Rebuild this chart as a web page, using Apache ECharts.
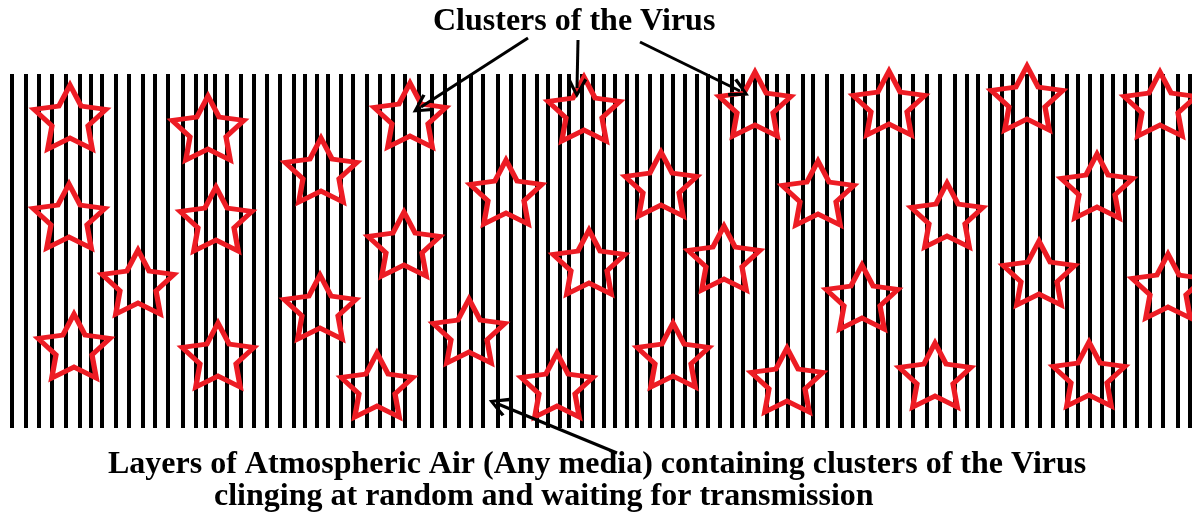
<!DOCTYPE html>
<html>
<head>
<meta charset="utf-8">
<script src="https://cdn.jsdelivr.net/npm/echarts@6/dist/echarts.min.js"></script>
<style>
  html, body { margin: 0; padding: 0; background: #fff; }
  #main { width: 1192px; height: 516px; }
</style>
</head>
<body>
<div id="main"></div>
<script>
// x positions of the hand drawn vertical "air" lines
var lineX = [12, 26, 39, 52, 66, 80, 91, 102, 116, 129, 143, 155, 168, 183, 196, 206, 215, 227, 241, 254,
  267, 280, 294, 305, 317, 328, 341, 353, 367, 380, 393,
  405, 419, 432, 445, 459, 471, 483, 498, 511, 524, 537, 548, 560, 569, 582, 593, 604, 615, 627, 637,
  650, 662, 673, 685, 697, 708, 720, 732, 743, 755, 767, 777, 788,
  803, 813, 827, 842, 853, 865, 878, 888, 900, 913, 927, 940, 955, 967, 978, 990, 1002, 1013, 1027,
  1040, 1053, 1067, 1078, 1090, 1102, 1113, 1125, 1137, 1150, 1163, 1178, 1190];
var lineTop = 74;
var lineBottom = 428;

// virus clusters (stars)
var starX = [70, 208, 321, 69, 216, 410, 584, 755, 506, 661, 889, 1027, 1160, 818, 947, 1097,
  138, 74, 218, 320, 377, 404, 589, 724, 469, 673, 557, 787, 862, 1039, 1168, 935, 1089];
var starY = [117, 128, 170, 216, 219, 115, 109, 104, 192, 184, 103, 98, 104, 193, 215, 186,
  282, 346, 355, 307, 385, 244, 262, 258, 331, 355, 385, 380, 297, 273, 286, 375, 374];

// arrows: start -> tip
var arrowFrom = [[528, 38], [578, 40], [640, 42], [617, 453]];
var arrowTo = [[421, 107], [577, 88], [740, 91], [498, 404]];

var topLabel = 'Clusters of the Virus';
var bottomLabel1 = 'Layers of Atmospheric Air (Any media) containing clusters of the Virus';
var bottomLabel2 = 'clinging at random and waiting for transmission';

var starPath = 'path://M0,-50 L14.7,-20.2 L47.55,-15.45 L23.8,7.7 L29.39,40.45 L0,25 L-29.39,40.45 L-23.8,7.7 L-47.55,-15.45 L-14.7,-20.2 Z';
var chevron = 'path://M5,0 L10,9 L8.6,10 L5,3 L1.4,10 L0,9 Z';

var lineData = [];
for (var i = 0; i < lineX.length; i++) {
  lineData.push({coords: [[lineX[i], lineTop], [lineX[i], lineBottom]]});
}
var starData = [];
for (var j = 0; j < starX.length; j++) {
  starData.push([starX[j], starY[j]]);
}
var arrowData = [];
for (var k = 0; k < arrowFrom.length; k++) {
  arrowData.push({coords: [arrowFrom[k], arrowTo[k]]});
}

var myChart = echarts.init(document.getElementById('main'));
var serif = '"Liberation Serif", "DejaVu Serif", serif';
var option = {
  backgroundColor: '#fff',
  animation: false,
  grid: {left: 0, right: 0, top: 0, bottom: 0},
  xAxis: {type: 'value', min: 0, max: 1192, show: false},
  yAxis: {type: 'value', min: 0, max: 516, inverse: true, show: false},
  graphic: [
    {type: 'text', left: 433, top: 6, z: 10,
      style: {text: topLabel, font: 'bold 32px ' + serif, fill: '#000'}},
    {type: 'text', left: 108, top: 449, z: 10,
      style: {text: bottomLabel1, font: 'bold 32px ' + serif, fill: '#000'}},
    {type: 'text', left: 214, top: 481, z: 10,
      style: {text: bottomLabel2, font: 'bold 32px ' + serif, fill: '#000'}}
  ],
  series: [
    {
      type: 'lines',
      coordinateSystem: 'cartesian2d',
      silent: true,
      z: 1,
      lineStyle: {color: '#000', width: 4, opacity: 1},
      data: lineData
    },
    {
      type: 'scatter',
      silent: true,
      z: 2,
      symbol: starPath,
      symbolSize: [72, 64],
      itemStyle: {color: 'rgba(0,0,0,0)', borderColor: '#ed1c24', borderWidth: 5, opacity: 1},
      data: starData
    },
    {
      type: 'lines',
      coordinateSystem: 'cartesian2d',
      silent: true,
      z: 3,
      symbol: ['none', chevron],
      symbolSize: 20,
      lineStyle: {color: '#000', width: 3, opacity: 1},
      data: arrowData
    }
  ]
};
myChart.setOption(option);
</script>
</body>
</html>
